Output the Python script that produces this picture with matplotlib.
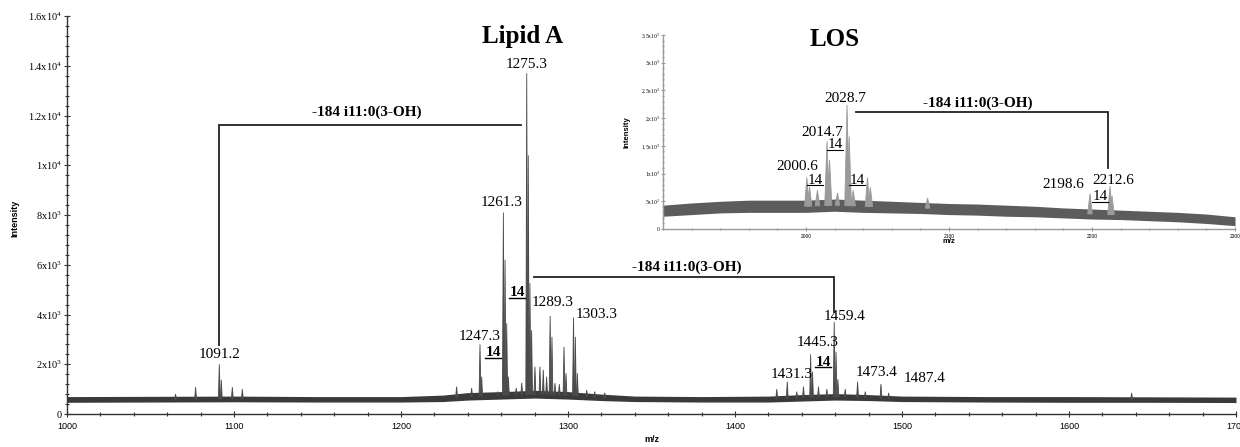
import numpy as np
import matplotlib
matplotlib.use("Agg")
import matplotlib.pyplot as plt
from matplotlib.lines import Line2D
from matplotlib.ticker import MultipleLocator, FixedLocator

# ---------------- data ----------------
# main spectrum (Lipid A): baseline noise band envelope
main_band_mz = [1000, 1050, 1100, 1150, 1200, 1225, 1240, 1260, 1280, 1300, 1320,
                1340, 1380, 1420, 1440, 1460, 1480, 1500, 1550, 1600, 1650, 1700]
main_band_lo = [470, 480, 490, 480, 480, 500, 560, 600, 640, 600, 540,
                500, 480, 480, 520, 560, 540, 500, 480, 470, 470, 460]
main_band_hi = [700, 710, 720, 700, 700, 760, 860, 900, 950, 900, 800,
                720, 700, 720, 780, 820, 780, 720, 700, 700, 690, 680]
# main spectrum peaks
main_peak_mz = [1065, 1077, 1091.2, 1092.4, 1099, 1105,
                1233.3, 1242.3, 1247.3, 1248.3, 1258, 1261.3, 1262.3, 1263.3, 1264.3,
                1269, 1272.3, 1275.3, 1276.2, 1277.2, 1278.2, 1280.2, 1283.2, 1285.2,
                1287.2, 1289.3, 1290.4, 1292.2, 1294.8, 1297.6, 1298.8, 1303.3, 1304.4,
                1305.6, 1311.2, 1316, 1322,
                1425, 1431.3, 1437, 1441, 1445.3, 1446.4, 1450, 1455, 1459.4, 1460.5,
                1461.6, 1466, 1473.4, 1478, 1487.4, 1492, 1637.5]
main_peak_int = [800, 1080, 2000, 1370, 1080, 1000,
                 1100, 1040, 2800, 1500, 900, 8100, 6200, 3650, 1500,
                 1050, 1250, 13700, 10400, 5260, 3370, 1900, 1900, 1770,
                 1500, 3940, 3100, 1240, 1200, 2700, 1640, 3880, 3100,
                 1640, 960, 900, 850,
                 1000, 1300, 900, 1100, 2400, 1700, 1100, 1000, 3700, 2500,
                 1400, 1000, 1300, 900, 1200, 850, 850]

# inset spectrum (LOS)
los_band_mz = [1900, 1920, 1940, 1960, 1980, 2000, 2020, 2040, 2060, 2080, 2100,
               2120, 2140, 2160, 2180, 2200, 2220, 2240, 2260, 2280, 2300]
los_band_lo = [230, 260, 290, 300, 300, 300, 320, 300, 290, 280, 260,
               250, 230, 220, 200, 180, 170, 150, 130, 100, 60]
los_band_hi = [430, 470, 500, 520, 520, 520, 540, 520, 500, 480, 460,
               450, 430, 410, 380, 360, 340, 320, 300, 270, 220]
los_peak_mz = [2000.6, 2002.5, 2008, 2014.7, 2016.5, 2022, 2028.7, 2030.2, 2033,
               2043, 2045, 2085, 2198.6, 2212.6, 2214]
los_peak_int = [930, 760, 700, 1580, 1245, 650, 2240, 1670, 700,
                930, 750, 560, 640, 770, 600]

main_yticks = [0, 2000, 4000, 6000, 8000, 10000, 12000, 14000, 16000]
main_ylabels = ["0", r"$\mathregular{2x10^3}$", r"$\mathregular{4x10^3}$",
                r"$\mathregular{6x10^3}$", r"$\mathregular{8x10^3}$",
                r"$\mathregular{1x10^4}$", r"$\mathregular{1.2x10^4}$",
                r"$\mathregular{1.4x10^4}$", r"$\mathregular{1.6x10^4}$"]
main_xticks = [1000, 1100, 1200, 1300, 1400, 1500, 1600, 1700]
los_yticks = [0, 500, 1000, 1500, 2000, 2500, 3000, 3500]
los_ylabels = ["0", r"$\mathregular{5x10^2}$", r"$\mathregular{1x10^3}$",
               r"$\mathregular{1.5x10^3}$", r"$\mathregular{2x10^3}$",
               r"$\mathregular{2.5x10^3}$", r"$\mathregular{3x10^3}$",
               r"$\mathregular{3.5x10^3}$"]
los_xticks = [2000, 2100, 2200, 2300]

# peak labels (text, m/z-anchor) -- positions in pixels below
# ---------------------------------------------------------------
W, H = 1240, 447
SERIF = ["Liberation Serif", "DejaVu Serif"]
SANS = ["Liberation Sans", "DejaVu Sans"]

fig = plt.figure(figsize=(W / 100, H / 100), dpi=100)


def fx(x):
    return x / W


def fy(y):
    return 1 - y / H


def draw_spectrum(ax, band_mz, lo, hi, pk_mz, pk_int, half_w, band_c, peak_c, lw):
    band_mz = np.asarray(band_mz, float)
    lo = np.asarray(lo, float)
    hi = np.asarray(hi, float)
    ax.fill_between(band_mz, lo, hi, color=band_c, lw=0, zorder=2)
    mid = (lo + hi) / 2
    for m, h in zip(pk_mz, pk_int):
        b = np.interp(m, band_mz, mid)
        ax.fill([m - half_w, m, m + half_w], [b, h, b], facecolor=peak_c,
                edgecolor=peak_c, lw=lw, zorder=3)


def style_axes(ax, spine_c, lab_size, xlab_size, tick_len):
    for s in ("top", "right"):
        ax.spines[s].set_visible(False)
    for s in ("left", "bottom"):
        ax.spines[s].set_color(spine_c)
        ax.spines[s].set_linewidth(1.0)
    ax.tick_params(which="both", direction="inout", color=spine_c, width=0.8)
    ax.tick_params(which="major", length=tick_len)
    ax.tick_params(which="minor", length=tick_len * 0.7)
    ax.tick_params(axis="y", pad=1)
    ax.tick_params(axis="x", pad=3)


# ---------------- main axes ----------------
ax = fig.add_axes([fx(67), fy(414), (1236 - 67) / W, (414 - 16) / H])
ax.set_xlim(1000, 1700)
ax.set_ylim(0, 16000)
draw_spectrum(ax, main_band_mz, main_band_lo, main_band_hi,
              main_peak_mz, main_peak_int, 0.55, "#3a3a3a", "#4a4a4a", 0.6)
style_axes(ax, "#333333", 7.5, 6.5, 5)
ax.set_yticks(main_yticks)
ax.set_yticklabels(main_ylabels, fontsize=7.5, family=SERIF)
ax.yaxis.set_minor_locator(MultipleLocator(400))
ax.set_xticks(main_xticks)
ax.set_xticklabels([str(v) for v in main_xticks], fontsize=6.5, family=SANS)
ax.xaxis.set_minor_locator(MultipleLocator(20))

fig.text(fx(15), fy(218), "Intensity", rotation=90, ha="center", va="center",
         fontsize=6.5, fontweight="bold", family=SANS)
fig.text(fx(652), fy(440), "m/z", ha="center", va="center",
         fontsize=6.5, fontweight="bold", family=SANS)

# brackets (data coordinates)
ax.plot([1091.2, 1091.2, 1271.9], [2770, 11620, 11620], color="#222222", lw=1.3,
        solid_joinstyle="miter", zorder=4)
ax.plot([1279.6, 1459.4, 1459.4], [5520, 5520, 4100], color="#222222", lw=1.3,
        solid_joinstyle="miter", zorder=4)

# ---------------- inset ----------------
ax2 = fig.add_axes([fx(663), fy(229), (1235 - 663) / W, (229 - 35) / H])
ax2.set_xlim(1900, 2300)
ax2.set_ylim(0, 3500)
ax2.patch.set_alpha(0)
draw_spectrum(ax2, los_band_mz, los_band_lo, los_band_hi,
              los_peak_mz, los_peak_int, 1.6, "#5c5c5c", "#9a9a9a", 0.6)
style_axes(ax2, "#9a9a9a", 4, 3.5, 2.5)
ax2.set_yticks(los_yticks)
ax2.set_yticklabels(los_ylabels, fontsize=4, family=SERIF)
ax2.yaxis.set_minor_locator(MultipleLocator(100))
ax2.set_xticks(los_xticks)
ax2.set_xticklabels([str(v) for v in los_xticks], fontsize=3.5, family=SANS)
ax2.xaxis.set_minor_locator(MultipleLocator(20))
ax2.tick_params(which="minor", length=1.5)
ax2.tick_params(axis="x", pad=2)

fig.text(fx(627), fy(132), "Intensity", rotation=90, ha="center", va="center",
         fontsize=5.5, fontweight="bold", family=SANS)
fig.text(fx(949), fy(241), "m/z", ha="center", va="center",
         fontsize=5.5, fontweight="bold", family=SANS)
ax2.plot([2035, 2211.5, 2211.5], [2110, 2110, 1100], color="#222222", lw=1.3,
         solid_joinstyle="miter", zorder=4)

# ---------------- text annotations ----------------
underlined = []


def label(x, y, s, size=11, bold=False, ul=False):
    t = fig.text(fx(x), fy(y), s, ha="center", va="center", fontsize=size,
                 fontweight="bold" if bold else "normal", family=SERIF, zorder=6)
    if ul:
        underlined.append(t)
    return t


label(523, 37, "Lipid A", size=18, bold=True)
label(835, 40, "LOS", size=18, bold=True)
label(367, 112, "-184 i11:0(3-OH)", size=11, bold=True)
label(687, 267, "-184 i11:0(3-OH)", size=11, bold=True)
label(978, 103, "-184 i11:0(3-OH)", size=11, bold=True)

label(220, 354, "1091.2")
label(480, 336, "1247.3")
label(493, 353, "14", bold=True, ul=True)
label(502, 203, "1261.3")
label(517, 293, "14", bold=True, ul=True)
label(527, 65, "1275.3")
label(553, 303, "1289.3")
label(597, 314, "1303.3")
label(792, 375, "1431.3")
label(818, 343, "1445.3")
label(823, 362, "14", bold=True, ul=True)
label(845, 316, "1459.4")
label(877, 372, "1473.4")
label(925, 379, "1487.4")

label(845, 98, "2028.7")
label(822, 132, "2014.7")
label(835, 145, "14", ul=True)
label(797, 167, "2000.6")
label(815, 180, "14", ul=True)
label(857, 180, "14", ul=True)
label(1063, 184, "2198.6")
label(1113, 180, "2212.6")
label(1100, 197, "14", ul=True)

fig.canvas.draw()
r = fig.canvas.get_renderer()
inv = fig.transFigure.inverted()
for t in underlined:
    bb = t.get_window_extent(r).transformed(inv)
    yline = bb.y0 + 0.12 * (bb.y1 - bb.y0)
    fig.add_artist(Line2D([bb.x0, bb.x1], [yline, yline], transform=fig.transFigure,
                          color="black", lw=1.0 if t.get_fontweight() == "bold" else 0.8,
                          zorder=6))

fig.savefig("out.png", dpi=100)
